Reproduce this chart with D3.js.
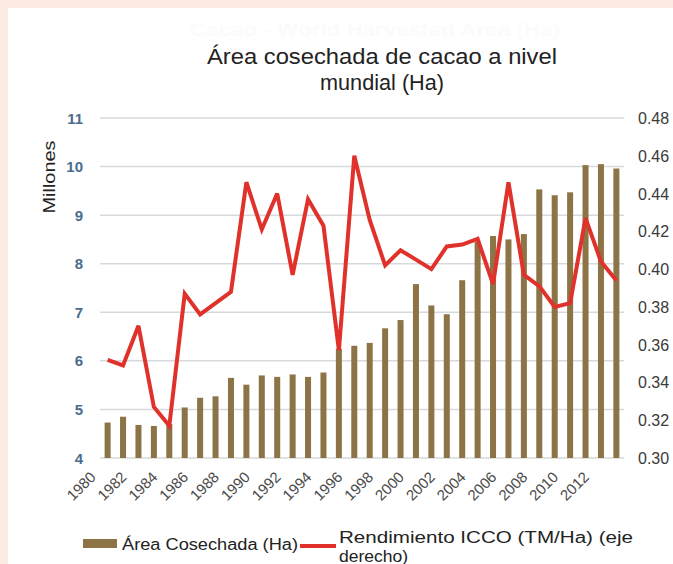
<!DOCTYPE html>
<html><head><meta charset="utf-8">
<script src="https://cdn.jsdelivr.net/npm/d3@7"></script>
<style>
html,body{margin:0;padding:0;background:#fcebe2;}
svg{display:block;font-family:"Liberation Sans",Arial,sans-serif;}
</style></head>
<body>
<svg id="c" width="673" height="564"></svg>
<script>
const years = d3.range(1980, 2014);
const areaMillions = [4.73,4.85,4.68,4.66,4.70,5.04,5.24,5.27,5.65,5.51,5.70,5.67,5.72,5.67,5.76,6.25,6.31,6.37,6.67,6.84,7.58,7.14,6.96,7.66,8.45,8.57,8.50,8.61,9.53,9.41,9.47,10.03,10.05,9.96];
const yieldICCO = [0.352,0.349,0.370,0.327,0.317,0.387,0.376,0.382,0.388,0.446,0.421,0.440,0.397,0.437,0.423,0.357,0.460,0.426,0.402,0.410,0.405,0.400,0.412,0.413,0.416,0.392,0.446,0.397,0.391,0.380,0.382,0.427,0.404,0.394];
const leftTicks = [4,5,6,7,8,9,10,11];
const rightTicks = [0.30,0.32,0.34,0.36,0.38,0.40,0.42,0.44,0.46,0.48];
const xTickYears = d3.range(1980, 2013, 2);
const titleLines = ["Área cosechada de cacao a nivel", "mundial (Ha)"];
const ghostTitle = "Cacao - World Harvested Area (Ha)";
const yAxisTitle = "Millones";
const legendBar = "Área Cosechada (Ha)";
const legendLine = ["Rendimiento ICCO (TM/Ha) (eje", "derecho)"];

const svg = d3.select("#c");
svg.append("rect").attr("x",8).attr("y",8).attr("width",665).attr("height",556).attr("fill","#fff");

const x = d3.scaleBand().domain(years).range([100,624]).paddingInner(0.61).paddingOuter(0.3);
const yL = d3.scaleLinear().domain([4,11]).range([458,118]);
const yR = d3.scaleLinear().domain([0.30,0.48]).range([458,118]);

svg.append("text").attr("x",375).attr("y",36).attr("text-anchor","middle")
  .attr("font-size",19).attr("font-weight","bold").attr("fill","#fbfbfb")
  .attr("textLength",370).attr("lengthAdjust","spacingAndGlyphs").text(ghostTitle);
const titleLens = [350, 124];
svg.selectAll("text.title").data(titleLines).join("text").attr("class","title")
  .attr("x",382).attr("y",(d,i)=>64+i*26).attr("text-anchor","middle")
  .attr("font-size",22).attr("fill","#222")
  .attr("textLength",(d,i)=>titleLens[i]).attr("lengthAdjust","spacingAndGlyphs").text(d=>d);

// gridlines
svg.append("g").selectAll("line").data(leftTicks).join("line")
  .attr("x1",100).attr("x2",624).attr("y1",d=>yL(d)).attr("y2",d=>yL(d))
  .attr("stroke","#d6dadd").attr("stroke-width",1.5);

// left labels
svg.append("g").selectAll("text").data(leftTicks).join("text")
  .attr("x",83).attr("y",d=>yL(d)+5.5).attr("text-anchor","end")
  .attr("font-size",15).attr("font-weight","bold").attr("fill","#4a6c8e").text(d=>d);
// right labels
svg.append("g").selectAll("text").data(rightTicks).join("text")
  .attr("x",638).attr("y",d=>yR(d)+6).attr("text-anchor","start")
  .attr("font-size",16).attr("fill","#3a3a3a").text(d=>d.toFixed(2));

svg.append("text").attr("transform","translate(55,177) rotate(-90)").attr("text-anchor","middle")
  .attr("font-size",16).attr("fill","#222")
  .attr("textLength",73).attr("lengthAdjust","spacingAndGlyphs").text(yAxisTitle);

// bars
svg.append("g").selectAll("rect").data(years).join("rect")
  .attr("x",d=>x(d)).attr("width",x.bandwidth())
  .attr("y",(d,i)=>yL(areaMillions[i])).attr("height",(d,i)=>yL(4)-yL(areaMillions[i]))
  .attr("fill","#8c7447");

// line
const line = d3.line().x((d,i)=>x(years[i])+x.bandwidth()/2).y(d=>yR(d));
svg.append("path").datum(yieldICCO).attr("d",line).attr("fill","none")
  .attr("stroke","#e0322b").attr("stroke-width",4).attr("stroke-linejoin","miter").attr("stroke-miterlimit",3);

// x tick labels
svg.append("g").selectAll("text").data(xTickYears).join("text")
  .attr("transform",d=>`translate(${x(d)+x.bandwidth()/2-11},478) rotate(-45)`)
  .attr("text-anchor","end").attr("font-size",15).attr("fill","#4a4a4a").text(d=>d);

// legend
svg.append("rect").attr("x",83).attr("y",539).attr("width",34).attr("height",9).attr("fill","#8c7447");
svg.append("text").attr("x",122).attr("y",550).attr("font-size",16).attr("fill","#222")
  .attr("textLength",176).attr("lengthAdjust","spacingAndGlyphs").text(legendBar);
svg.append("line").attr("x1",300).attr("x2",336).attr("y1",546).attr("y2",546).attr("stroke","#e0322b").attr("stroke-width",4);
const legLens = [294, 69];
svg.selectAll("text.leg2").data(legendLine).join("text").attr("class","leg2")
  .attr("x",339).attr("y",(d,i)=>543+i*19).attr("font-size",16).attr("fill","#222")
  .attr("textLength",(d,i)=>legLens[i]).attr("lengthAdjust","spacingAndGlyphs").text(d=>d);
</script>
</body></html>
